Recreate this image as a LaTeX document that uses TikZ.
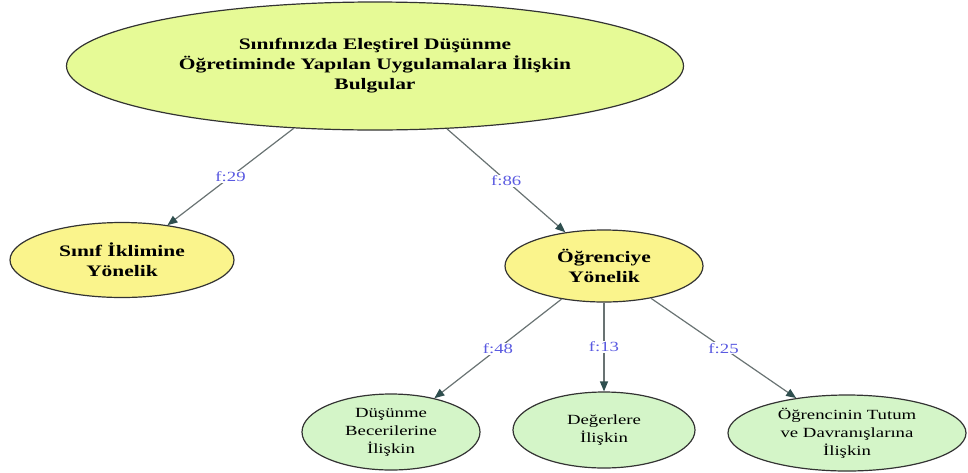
\documentclass[tikz,border=0pt]{standalone}
\usepackage{fontspec}
\setmainfont{Liberation Serif}[FakeStretch=1.34]
\usetikzlibrary{shapes.geometric,arrows.meta}
\definecolor{topfill}{RGB}{230,250,150}
\definecolor{midfill}{RGB}{250,244,140}
\definecolor{leaffill}{RGB}{212,245,200}
\definecolor{linkgray}{RGB}{105,115,115}
\definecolor{tipgray}{RGB}{47,79,79}
\definecolor{freqblue}{RGB}{90,90,225}
\begin{document}
\begin{tikzpicture}[x=1pt,y=-1pt,
    bubble/.style={ellipse,draw=black!80,line width=1.2pt,inner sep=0pt,align=center},
    headbox/.style={bubble,fill=topfill,font=\fontsize{16}{20}\selectfont\bfseries},
    midbox/.style={bubble,fill=midfill,font=\fontsize{16}{20}\selectfont\bfseries},
    leafbox/.style={bubble,fill=leaffill,font=\fontsize{14}{18}\selectfont},
    link/.style={draw=linkgray,line width=1.2pt,-{Triangle[length=10pt,width=8pt,color=tipgray]}},
    freq/.style={fill=white,inner sep=1pt,text=freqblue,font=\fontsize{14}{16}\selectfont}]
  \useasboundingbox (0,0) rectangle (968,472);
  % top
  \node[headbox,minimum width=617,minimum height=128] (bulgular) at (375,66)
    {Sınıfınızda Eleştirel Düşünme\\Öğretiminde Yapılan Uygulamalara İlişkin\\Bulgular};
  % second level
  \node[midbox,minimum width=224,minimum height=75] (sinif) at (122,260) {Sınıf İklimine\\Yönelik};
  \node[midbox,minimum width=198,minimum height=72] (ogrenci) at (604,266) {Öğrenciye\\Yönelik};
  % leaves
  \node[leafbox,minimum width=178,minimum height=76] (beceri) at (391,432) {Düşünme\\Becerilerine\\İlişkin};
  \node[leafbox,minimum width=182,minimum height=76] (deger) at (604,430) {Değerlere\\İlişkin};
  \node[leafbox,minimum width=238,minimum height=76] (tutum) at (847,433) {Öğrencinin Tutum\\ve Davranışlarına\\İlişkin};
  % links
  \draw[link] (bulgular) -- node[freq] {f:29} (sinif);
  \draw[link] (bulgular) -- node[freq] {f:86} (ogrenci);
  \draw[link] (ogrenci) -- node[freq] {f:48} (beceri);
  \draw[link] (ogrenci) -- node[freq] {f:13} (deger);
  \draw[link] (ogrenci) -- node[freq] {f:25} (tutum);
\end{tikzpicture}
\end{document}
